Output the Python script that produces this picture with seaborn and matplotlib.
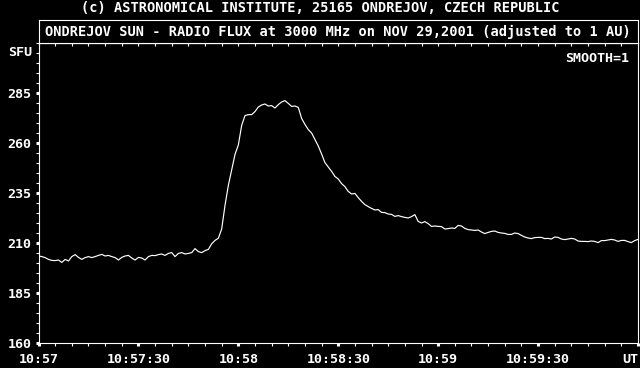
import numpy as np
import pandas as pd
import matplotlib
matplotlib.use("Agg")
import matplotlib.pyplot as plt
import seaborn as sns
from matplotlib.ticker import MultipleLocator, FixedLocator

# ---- data (seconds after 10:57:00 UT, flux in SFU) ----
seconds = list(range(0, 181))
flux = [
    203.5, 203.2, 202.7, 201.8, 201.3, 201.2, 201.5, 200.3, 201.8, 201.0,
    203.2, 204.2, 202.8, 201.8, 202.7, 203.2, 202.7, 203.2, 203.8, 204.3,
    203.5, 203.8, 203.2, 202.7, 201.5, 202.8, 203.5, 203.8, 202.5, 201.5,
    202.8, 202.5, 201.5, 203.2, 203.8, 203.7, 204.2, 204.5, 203.8, 204.8,
    205.2, 203.2, 204.8, 205.2, 204.5, 204.8, 205.2, 207.2, 205.7, 205.2,
    206.2, 206.8, 209.6, 211.3, 212.4, 217.0, 228.8, 238.8, 246.5, 254.3,
    259.0, 268.8, 273.7, 274.2, 274.2, 275.7, 278.0, 279.0, 279.5, 278.5,
    278.7, 277.5, 279.2, 280.5, 281.2, 279.8, 278.3, 278.5, 277.8, 272.3,
    269.3, 266.7, 265.0, 261.7, 258.5, 254.5, 250.2, 248.0, 245.8, 243.3,
    242.0, 239.7, 238.2, 235.8, 234.5, 234.8, 232.7, 230.8, 229.2, 228.2,
    227.3, 226.5, 226.7, 225.3, 225.2, 224.5, 224.3, 223.3, 223.7, 223.2,
    222.8, 222.5, 223.2, 224.2, 220.8, 220.0, 220.7, 219.7, 218.3, 218.5,
    218.3, 218.2, 217.0, 217.2, 217.5, 217.3, 218.8, 218.5, 217.3, 216.7,
    216.5, 216.3, 216.5, 215.5, 214.7, 215.3, 215.8, 216.0, 215.3, 215.0,
    214.8, 214.3, 214.3, 215.0, 214.7, 213.8, 213.0, 212.5, 212.2, 212.7,
    212.8, 212.8, 212.2, 212.3, 212.0, 213.0, 212.8, 212.0, 211.7, 212.0,
    212.3, 212.0, 211.0, 210.8, 210.8, 210.7, 211.0, 210.8, 210.2, 211.2,
    211.2, 211.5, 211.8, 211.5, 210.8, 211.3, 211.3, 210.7, 210.2, 211.2,
    211.8,
]
xtick_pos = [0, 30, 60, 90, 120, 150, 180]
xtick_labels = ["10:57", "10:57:30", "10:58", "10:58:30", "10:59", "10:59:30", "UT"]
ytick_pos = [160, 185, 210, 235, 260, 285]
ytick_labels = ["160", "185", "210", "235", "260", "285"]

header = "(c) ASTRONOMICAL INSTITUTE, 25165 ONDREJOV, CZECH REPUBLIC"
title = "ONDREJOV SUN - RADIO FLUX at 3000 MHz on NOV 29,2001 (adjusted to 1 AU)"
unit = "SFU"
smooth_note = "SMOOTH=1"

df = pd.DataFrame({"t": seconds, "flux": flux})

sns.set_style("dark", {"axes.facecolor": "black", "figure.facecolor": "black"})
FONT = ["DejaVu Sans Mono"]
plt.rcParams["font.family"] = FONT
plt.rcParams["font.weight"] = "bold"

W, H = 640, 368
fig = plt.figure(figsize=(W / 100, H / 100), dpi=100, facecolor="black")

L, R, T, B = 38.5, 638, 43, 343
ax = fig.add_axes([L / W, (H - B) / H, (R - L) / W, (B - T) / H])
ax.set_facecolor("black")

sns.lineplot(data=df, x="t", y="flux", ax=ax, color="white", linewidth=0.85)

ax.set_xlim(0, 180)
ax.set_ylim(160, 310)
ax.set_xlabel("")
ax.set_ylabel("")
ax.grid(False)

for s in ax.spines.values():
    s.set_visible(True)
    s.set_color("white")
    s.set_linewidth(0.8)

ax.xaxis.set_major_locator(FixedLocator(xtick_pos))
ax.set_xticklabels(xtick_labels)
ax.xaxis.set_minor_locator(MultipleLocator(5))
ax.yaxis.set_major_locator(FixedLocator(ytick_pos))
ax.set_yticklabels(ytick_labels)
ax.yaxis.set_minor_locator(MultipleLocator(5))

ax.tick_params(axis="both", which="major", direction="out", colors="white",
               length=2.4, width=2.2, labelsize=9.6, labelcolor="white")
ax.tick_params(axis="both", which="minor", direction="out", colors="white",
               length=2.2, width=0.8)
ax.tick_params(axis="x", which="major", pad=5)
ax.tick_params(axis="y", which="major", pad=2.5)
ax.tick_params(bottom=True, left=True, top=False, right=False)
ax.tick_params(axis="both", which="minor", bottom=True, left=True, top=False, right=False)

lbls = ax.get_xticklabels()
lbls[-1].set_horizontalalignment("right")
for lb in ax.get_xticklabels() + ax.get_yticklabels():
    lb.set_fontweight("bold")

# top inward ticks
sec = ax.secondary_xaxis("top")
sec.xaxis.set_major_locator(FixedLocator(xtick_pos))
sec.xaxis.set_minor_locator(MultipleLocator(5))
sec.tick_params(which="both", direction="in", colors="white", length=2, width=0.8,
                labeltop=False)
sec.spines["top"].set_color("white")

# title box
axt = fig.add_axes([L / W, (H - T) / H, (R - L) / W, (T - 19.5) / H])
axt.set_facecolor("black")
axt.set_xticks([])
axt.set_yticks([])
for s in axt.spines.values():
    s.set_visible(True)
    s.set_color("white")
    s.set_linewidth(0.8)
axt.text(0.5, 0.48, title, transform=axt.transAxes, ha="center", va="center",
         color="white", fontsize=9.8, fontweight="bold")

fig.text(0.5, 1 - 8.5 / H, header, ha="center", va="center", color="white",
         fontsize=9.8, fontweight="bold")
fig.text(20 / W, 1 - 52 / H, unit, ha="center", va="center", color="white",
         fontsize=9.6, fontweight="bold")
fig.text(629 / W, 1 - 58 / H, smooth_note, ha="right", va="center", color="white",
         fontsize=9.6, fontweight="bold")

fig.savefig("out.png", dpi=100, facecolor="black")
